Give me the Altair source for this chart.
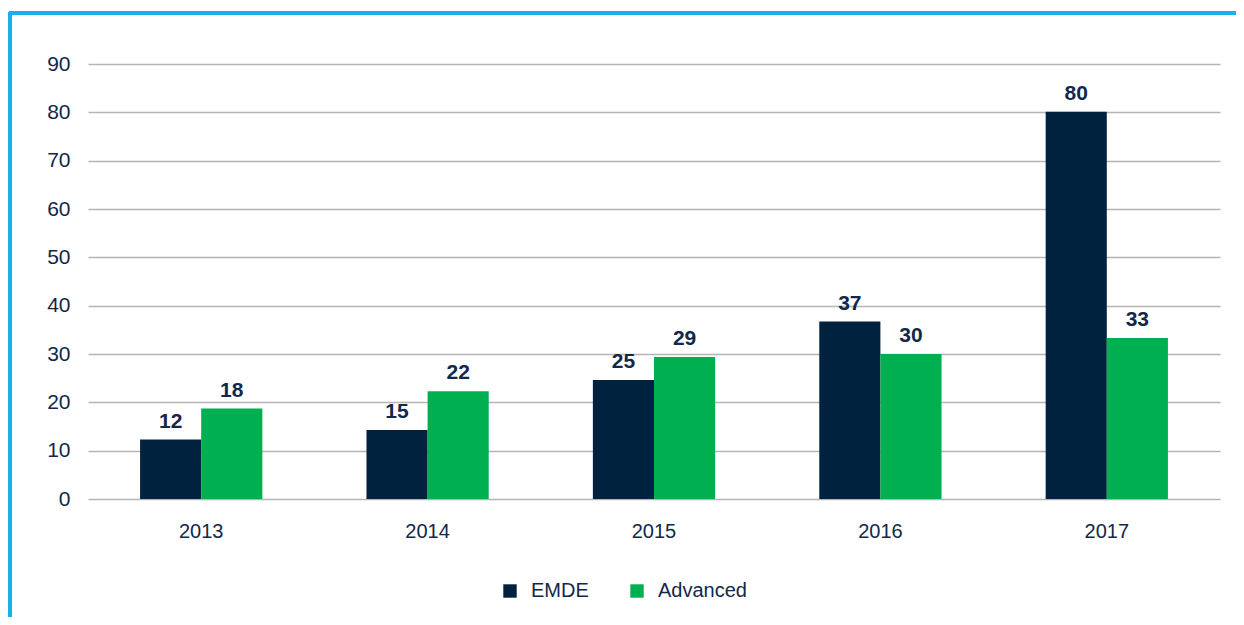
import altair as alt
import pandas as pd

years = ["2013", "2014", "2015", "2016", "2017"]
emde = [12.3, 14.3, 24.6, 36.7, 80.1]
advanced = [18.7, 22.3, 29.4, 30.0, 33.3]
emde_labels = ["12", "15", "25", "37", "80"]
advanced_labels = ["18", "22", "29", "30", "33"]
series = ["EMDE", "Advanced"]
colors = ["#00223F", "#00B050"]
y_ticks = [0, 10, 20, 30, 40, 50, 60, 70, 80, 90]

rows = []
for i, yr in enumerate(years):
    rows.append({"year": yr, "series": "EMDE", "value": emde[i], "label": emde_labels[i]})
    rows.append({"year": yr, "series": "Advanced", "value": advanced[i], "label": advanced_labels[i]})
df = pd.DataFrame(rows)

FONT = "Liberation Sans"
TXT = "#11284A"
FRAME = "#1AB0EA"

x_enc = alt.X("year:N", title=None,
              scale=alt.Scale(paddingInner=0.46, paddingOuter=0.23),
              axis=alt.Axis(labelAngle=0, labelFontSize=20, labelColor=TXT, labelFont=FONT,
                            labelPadding=22, ticks=False, domain=False, grid=False))
y_enc = alt.Y("value:Q", title=None,
              scale=alt.Scale(domain=[0, 90], nice=False),
              axis=alt.Axis(values=y_ticks, labelFontSize=21, labelColor=TXT, labelFont=FONT,
                            labelPadding=18, ticks=False, domain=False, grid=True,
                            gridColor="#B5B5B5", gridWidth=1.6))
xo = alt.XOffset("series:N", sort=series)

bars = alt.Chart(df).mark_bar().encode(
    x=x_enc, y=y_enc, xOffset=xo,
    color=alt.Color("series:N", sort=series,
                    scale=alt.Scale(domain=series, range=colors),
                    legend=alt.Legend(title=None, orient="none", direction="horizontal",
                                      legendX=412, legendY=517, symbolType="square",
                                      symbolSize=180, symbolStrokeWidth=0,
                                      labelFontSize=20, labelFont=FONT, labelColor=TXT,
                                      labelOffset=11, columnPadding=38)),
)

texts = alt.Chart(df).mark_text(baseline="bottom", dy=-8, fontSize=21, fontWeight="bold",
                                font=FONT, color=TXT).encode(
    x=x_enc, y=y_enc, xOffset=xo, text="label:N")

frame_top = alt.Chart(df).mark_rule(color=FRAME, strokeWidth=3, clip=False).encode(
    x=alt.value(-79), x2=alt.value(1180), y=alt.value(-51))
frame_left = alt.Chart(df).mark_rule(color=FRAME, strokeWidth=3, clip=False).encode(
    x=alt.value(-78), y=alt.value(-52), y2=alt.value(600))

chart = alt.layer(bars, texts, frame_top, frame_left).properties(
    width=1132, height=435,
    autosize=alt.AutoSizeParams(type="none"),
    padding={"left": 80, "top": 56, "right": 16, "bottom": 118},
).configure(background="white").configure_view(stroke=None)

chart.save("out.html", embed_options={"renderer": "svg", "actions": False})
